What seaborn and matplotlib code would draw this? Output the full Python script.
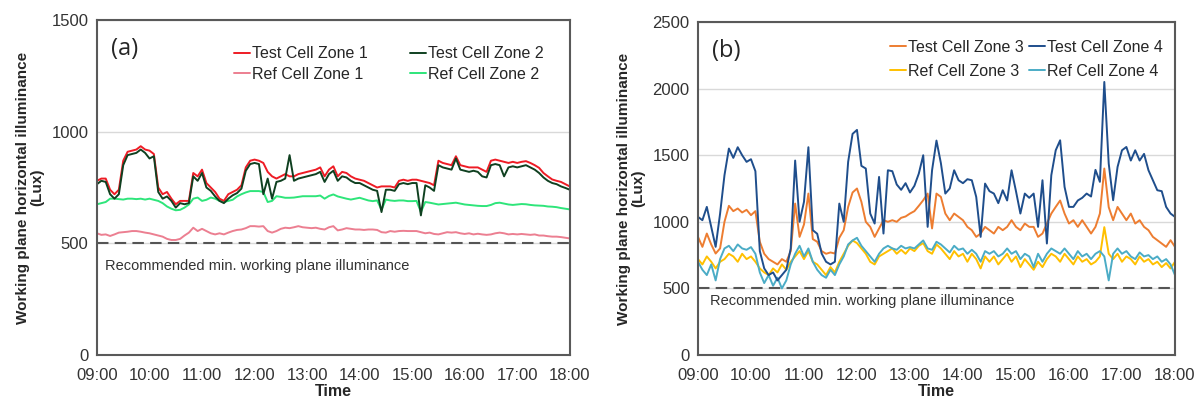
import pandas as pd
import seaborn as sns
import matplotlib.pyplot as plt
import matplotlib.dates as mdates

# 5-minute readings, 09:00 .. 18:00 (109 points), one row per hour
test_zone1 = [780, 790, 790, 740, 720, 740, 870, 910, 915, 920, 935, 920,
              915, 900, 750, 720, 730, 700, 675, 690, 690, 690, 815, 800,
              830, 770, 750, 730, 700, 690, 720, 730, 740, 760, 840, 870,
              875, 870, 860, 820, 800, 790, 800, 810, 800, 800, 810, 815,
              820, 825, 830, 840, 800, 830, 845, 800, 820, 815, 800, 790,
              785, 780, 770, 760, 750, 755, 755, 755, 750, 780, 785, 780,
              785, 785, 780, 775, 770, 760, 870, 860, 855, 850, 890, 850,
              845, 840, 840, 840, 830, 820, 870, 875, 870, 865, 860, 865,
              860, 865, 868, 860, 850, 838, 815, 800, 786, 780, 775, 765,
              755]
test_zone2 = [765, 780, 775, 720, 700, 720, 850, 895, 900, 905, 920, 905,
              880, 890, 730, 700, 710, 690, 660, 680, 675, 680, 800, 780,
              815, 750, 735, 710, 690, 680, 700, 715, 725, 745, 825, 855,
              860, 855, 720, 790, 700, 775, 780, 790, 895, 780, 790, 795,
              800, 805, 810, 820, 775, 810, 825, 780, 800, 795, 780, 770,
              770, 760, 750, 740, 735, 640, 740, 740, 735, 765, 770, 765,
              770, 770, 625, 760, 750, 735, 850, 840, 835, 830, 880, 830,
              825, 820, 825, 820, 800, 795, 850, 855, 850, 800, 840, 845,
              840, 845, 850, 840, 830, 815, 795, 780, 770, 765, 755, 748,
              740]
ref_zone1 = [545, 538, 540, 533, 540, 548, 550, 552, 555, 555, 552, 548,
             545, 540, 535, 530, 520, 515, 515, 520, 535, 548, 570, 555,
             565, 555, 545, 540, 545, 540, 548, 555, 560, 562, 568, 577,
             577, 575, 577, 555, 548, 555, 565, 570, 568, 572, 577, 572,
             570, 568, 570, 565, 562, 572, 577, 558, 562, 568, 565, 562,
             562, 560, 562, 562, 560, 550, 548, 555, 552, 555, 556, 555,
             555, 555, 550, 545, 548, 542, 540, 545, 550, 548, 550, 545,
             542, 545, 540, 543, 540, 538, 540, 545, 548, 545, 540, 542,
             540, 542, 540, 538, 540, 535, 535, 532, 530, 530, 528, 525,
             522]
ref_zone2 = [675, 680, 685, 700, 700, 698, 696, 700, 700, 698, 700, 696,
             700, 695, 690, 680, 665, 655, 648, 650, 660, 674, 700, 705,
             690, 695, 705, 700, 690, 685, 690, 695, 710, 720, 728, 734,
             734, 734, 730, 685, 690, 711, 708, 704, 704, 705, 708, 711,
             711, 711, 711, 714, 700, 712, 719, 710, 705, 700, 696, 700,
             704, 698, 692, 689, 692, 650, 696, 692, 690, 692, 692, 689,
             689, 690, 640, 685, 682, 678, 674, 676, 678, 680, 682, 678,
             674, 672, 670, 668, 667, 667, 672, 680, 682, 678, 674, 672,
             674, 676, 675, 672, 670, 669, 668, 665, 664, 662, 658, 655,
             652]

test_zone3 = [887, 812, 912, 830, 762, 800, 1000, 1120, 1080, 1100, 1070, 1090,
              1050, 1080, 850, 760, 720, 700, 680, 720, 700, 780, 1137, 887,
              980, 1212, 870, 850, 780, 760, 770, 762, 880, 937, 1112, 1220,
              1250, 1150, 1000, 962, 887, 950, 1012, 1000, 1012, 1000, 1030, 1040,
              1062, 1080, 1120, 1162, 1212, 950, 1212, 1187, 1062, 1012, 1062, 1037,
              1012, 962, 937, 887, 912, 962, 937, 912, 962, 937, 962, 1012,
              962, 937, 987, 962, 962, 887, 912, 987, 1062, 1112, 1160, 1062,
              987, 1012, 962, 1012, 962, 912, 962, 1062, 1400, 1110, 1012, 1112,
              1062, 1012, 1062, 987, 1012, 962, 937, 887, 862, 837, 812, 862,
              812]
test_zone4 = [1037, 1012, 1112, 962, 812, 1060, 1350, 1550, 1480, 1560, 1500, 1450,
              1470, 1380, 780, 650, 600, 620, 560, 600, 640, 800, 1460, 1000,
              1150, 1560, 937, 910, 762, 700, 680, 700, 1137, 1000, 1450, 1660,
              1690, 1420, 1400, 1062, 987, 1337, 912, 1387, 1380, 1280, 1240, 1290,
              1220, 1270, 1362, 1500, 962, 1387, 1610, 1440, 1212, 1250, 1387, 1312,
              1290, 1320, 1312, 1187, 887, 1287, 1230, 1212, 1140, 1237, 1160, 1387,
              1230, 1062, 1212, 1180, 1212, 962, 1312, 837, 1350, 1537, 1612, 1262,
              1112, 1112, 1160, 1180, 1212, 1190, 1390, 1300, 2050, 1437, 1162, 1412,
              1537, 1562, 1460, 1537, 1460, 1510, 1387, 1312, 1237, 1230, 1112, 1062,
              1037]
ref_zone3 = [720, 680, 740, 700, 650, 700, 720, 760, 740, 700, 760, 720,
             740, 700, 650, 620, 600, 650, 620, 680, 640, 700, 740, 780,
             720, 780, 700, 680, 640, 600, 660, 620, 700, 760, 820, 860,
             840, 800, 760, 700, 680, 740, 760, 780, 800, 760, 790, 760,
             800, 780, 820, 840, 780, 760, 830, 800, 760, 720, 780, 740,
             760, 700, 760, 720, 650, 740, 700, 740, 680, 720, 760, 700,
             740, 660, 720, 680, 640, 700, 660, 720, 760, 740, 700, 760,
             720, 680, 740, 700, 720, 680, 700, 740, 960, 760, 720, 760,
             700, 740, 720, 680, 740, 700, 720, 680, 700, 660, 690, 650,
             700]
ref_zone4 = [700, 640, 600, 680, 560, 720, 800, 820, 780, 830, 800, 790,
             810, 760, 620, 540, 600, 520, 580, 500, 560, 680, 760, 820,
             740, 800, 700, 640, 600, 580, 640, 600, 680, 740, 830, 860,
             880, 820, 780, 740, 700, 760, 800, 820, 800, 790, 820, 800,
             810, 800, 830, 860, 800, 790, 850, 830, 800, 770, 820, 790,
             800, 760, 790, 760, 700, 780, 760, 780, 740, 760, 800, 760,
             780, 720, 760, 740, 660, 760, 700, 760, 800, 780, 760, 800,
             760, 720, 780, 740, 760, 720, 760, 780, 740, 560, 760, 800,
             760, 780, 740, 720, 770, 740, 750, 720, 740, 700, 720, 680,
             600]

times = pd.date_range("2016-06-01 09:00", "2016-06-01 18:00", freq="5min")
tick_times = pd.date_range("2016-06-01 09:00", "2016-06-01 18:00", freq="1h")

sns.set_style("white")
plt.rcParams['font.family'] = ['Liberation Sans', 'DejaVu Sans']

fig = plt.figure(figsize=(12.03, 4.01), dpi=100)
ax_a = fig.add_axes([0.0806, 0.1147, 0.393, 0.8354])
ax_b = fig.add_axes([0.5802, 0.1147, 0.3965, 0.8304])

panels = [
    (ax_a, "(a)", 1500,
     [("Test Cell Zone 1", test_zone1, "#ee1c25"),
      ("Ref Cell Zone 1", ref_zone1, "#ec7f91"),
      ("Test Cell Zone 2", test_zone2, "#0f4020"),
      ("Ref Cell Zone 2", ref_zone2, "#2ee57a")],
     dict(bbox_to_anchor=(0.965, 0.95), columnspacing=2.6, labelspacing=0.35), 400),
    (ax_b, "(b)", 2500,
     [("Test Cell Zone 3", test_zone3, "#ed7d31"),
      ("Ref Cell Zone 3", ref_zone3, "#ffc000"),
      ("Test Cell Zone 4", test_zone4, "#1f4e8c"),
      ("Ref Cell Zone 4", ref_zone4, "#4bacc6")],
     dict(bbox_to_anchor=(0.995, 0.975), columnspacing=0.3, labelspacing=0.55), 405),
]

for ax, tag, ymax, series, leg_kw, note_y in panels:
    # plot order: refs underneath tests
    draw_order = [series[1], series[3], series[0], series[2]]
    for name, vals, col in draw_order:
        sns.lineplot(x=times, y=vals, ax=ax, color=col, linewidth=1.4, label=name)
    ax.axhline(500, color="#555555", linestyle=(0, (5.5, 3)), linewidth=1.5, zorder=1)
    ax.text(0.018 if tag == "(a)" else 0.025, note_y,
            "Recommended min. working plane illuminance",
            transform=ax.get_yaxis_transform(), fontsize=10.5, color="#333333", va="center")
    ax.text(0.03, 0.912, tag, transform=ax.transAxes, fontsize=17,
            family=["Open Sans", "DejaVu Sans"], va="center")

    ax.set_ylim(0, ymax)
    ax.set_yticks(range(0, ymax + 1, 500))
    ax.set_xlim(times[0], times[-1])
    ax.set_xticks(tick_times)
    ax.xaxis.set_major_formatter(mdates.DateFormatter("%H:%M"))
    ax.grid(axis="y", color="#d9d9d9", linewidth=1)
    ax.set_axisbelow(True)
    for sp in ax.spines.values():
        sp.set_color("#595959")
        sp.set_linewidth(1.5)
    ax.tick_params(axis="both", labelsize=12, colors="#333333", length=3, width=1, pad=3)
    ax.tick_params(axis="x", length=0, pad=9)

    ax.set_xlabel("Time", fontsize=11.5, fontweight="bold", labelpad=1)
    ax.set_ylabel("Working plane horizontal illuminance\n(Lux)", fontsize=11,
                  fontweight="bold", labelpad=5, linespacing=1.05)

    handles, labels = ax.get_legend_handles_labels()
    lookup = dict(zip(labels, handles))
    names = [s[0] for s in series]
    ax.legend([lookup[n] for n in names], names, loc="upper right", ncol=2,
              frameon=False, fontsize=11.5, handlelength=1.0, handletextpad=0.15,
              borderaxespad=0.2, **leg_kw)

fig.savefig("out.png", dpi=100)
